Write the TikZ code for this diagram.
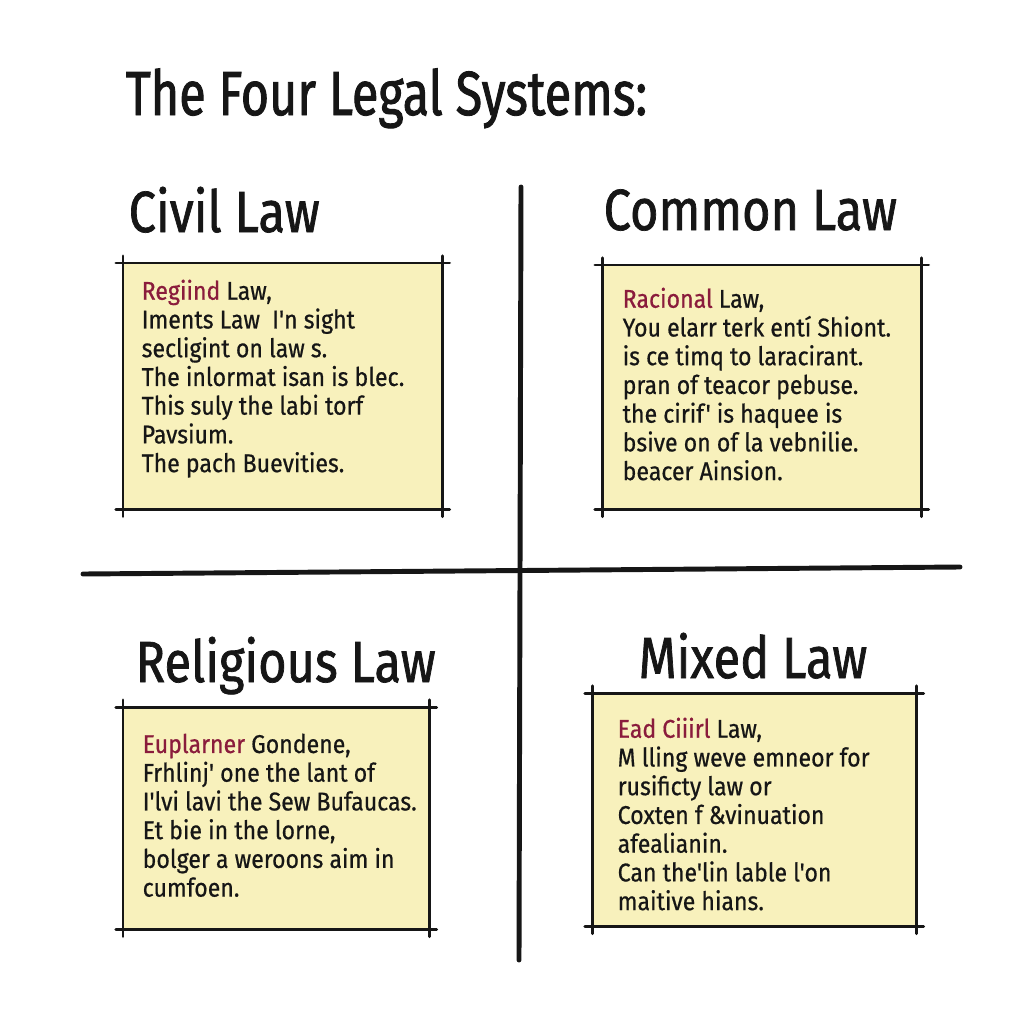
\documentclass[tikz,border=0pt]{standalone}
\usepackage{fontspec}
\setmainfont{Fira Sans}
\newfontfamily\handfont[FakeStretch=0.9,FakeBold=0.6]{Fira Sans}
\newfontfamily\headfont[FakeStretch=0.84,FakeBold=1.2]{Fira Sans}
\newfontfamily\titlefont[FakeStretch=0.78,FakeBold=1.4]{Fira Sans}
\definecolor{ink}{HTML}{161616}
\definecolor{paper}{HTML}{F8F1BC}
\definecolor{redword}{HTML}{8A1C3C}
\tikzset{
  divider/.style={draw=ink, line width=1.4pt, line cap=round},
  panel/.style={fill=paper, draw=none, inner sep=0pt, anchor=north west},
  rim/.style={draw=ink, line width=0.85pt, line cap=round, shorten <=-2pt, shorten >=-2pt},
  body/.style={text=ink, anchor=north west, inner sep=0pt, align=left,
    font=\handfont\fontsize{7.3}{8.17}\selectfont},
  heading/.style={text=ink, anchor=base west, inner sep=0pt,
    font=\headfont\fontsize{16.5}{18}\selectfont},
  titletext/.style={text=ink, anchor=base west, inner sep=0pt,
    font=\titlefont\fontsize{17.7}{20}\selectfont},
}
\newcommand{\rw}[1]{\textcolor{redword}{#1}}
\begin{document}
\begin{tikzpicture}[x=0.01cm, y=-0.01cm]
\useasboundingbox[fill=white] (0,0) rectangle (1024,1024);

% title
\node[titletext] (title) at (125,115) {The Four Legal Systems:};

% dividers
\coordinate (vtop) at (521,187);
\coordinate (vbot) at (519,960);
\coordinate (hleft) at (83,574);
\coordinate (hright) at (960,567);
\draw[divider] (vtop) -- (vbot);
\draw[divider] (hleft) -- (hright);

% headings
\node[heading] (h1) at (128,232) {Civil Law};
\node[heading] (h2) at (603,230) {Common Law};
\node[heading] (h3) at (135,682) {Religious Law};
\node[heading] (h4) at (638,678) {Mixed Law};

% panels
\node[panel, minimum width=3.18cm, minimum height=2.45cm] (b1) at (123,263) {};
\node[panel, minimum width=3.18cm, minimum height=2.43cm] (b2) at (602,265) {};
\node[panel, minimum width=3.05cm, minimum height=2.21cm] (b3) at (123,707) {};
\node[panel, minimum width=3.23cm, minimum height=2.32cm] (b4) at (592,693) {};
\foreach \b in {b1,b2,b3,b4}{
  \draw[rim] (\b.north west) -- (\b.north east);
  \draw[rim] (\b.north east) -- (\b.south east);
  \draw[rim] (\b.south east) -- (\b.south west);
  \draw[rim] (\b.south west) -- (\b.north west);
}

% texts
\node[body] (t1) at (141,279) {\rw{Regiind} Law,\\
Iments Law\ \ I'n sight\\
secligint on law s.\\
The inlormat isan is blec.\\
This suly the labi torf\\
Pavsium.\\
The pach Buevities.};

\node[body] (t2) at (622,287) {\rw{Racional} Law,\\
You elarr terk entí Shiont.\\
is ce timq to laracirant.\\
pran of teacor pebuse.\\
the cirif' is haquee is\\
bsive on of la vebnilie.\\
beacer Ainsion.};

\node[body] (t3) at (142,733) {\rw{Euplarner} Gondene,\\
Frhlinj' one the lant of\\
I'lvi lavi the Sew Bufaucas.\\
Et bie in the lorne,\\
bolger a weroons aim in\\
cumfoen.};

\node[body] (t4) at (617,717) {\rw{Ead Ciiirl} Law,\\
M lling weve emneor for\\
rusificty law or\\
Coxten f \&vinuation\\
afealianin.\\
Can the'lin lable l'on\\
maitive hians.};
\end{tikzpicture}
\end{document}
